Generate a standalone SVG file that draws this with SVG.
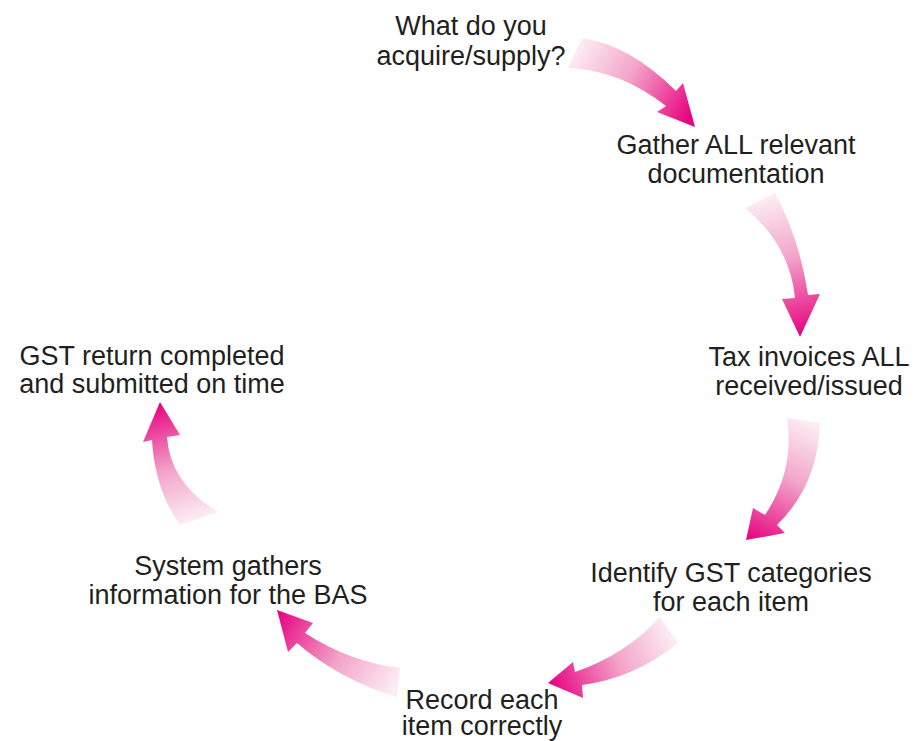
<svg xmlns="http://www.w3.org/2000/svg" width="916" height="741" viewBox="0 0 916 741">
<style>
.t{font-family:"Liberation Sans",Arial,sans-serif;font-size:27px;fill:#231f20;text-anchor:middle}
</style>
<defs>
<linearGradient id="g1" gradientUnits="userSpaceOnUse" x1="575" y1="53" x2="690" y2="120"><stop offset="0" stop-color="#fcecf3"/><stop offset="0.45" stop-color="#f3a3c9"/><stop offset="1" stop-color="#e6007e"/></linearGradient>
<linearGradient id="g2" gradientUnits="userSpaceOnUse" x1="760" y1="200" x2="800" y2="337"><stop offset="0" stop-color="#fcecf3"/><stop offset="0.45" stop-color="#f3a3c9"/><stop offset="1" stop-color="#e6007e"/></linearGradient>
<linearGradient id="g3" gradientUnits="userSpaceOnUse" x1="803" y1="420" x2="746" y2="540"><stop offset="0" stop-color="#fcecf3"/><stop offset="0.45" stop-color="#f3a3c9"/><stop offset="1" stop-color="#e6007e"/></linearGradient>
<linearGradient id="g4" gradientUnits="userSpaceOnUse" x1="669" y1="630" x2="548" y2="683"><stop offset="0" stop-color="#fcecf3"/><stop offset="0.45" stop-color="#f3a3c9"/><stop offset="1" stop-color="#e6007e"/></linearGradient>
<linearGradient id="g5" gradientUnits="userSpaceOnUse" x1="398" y1="682" x2="277" y2="610"><stop offset="0" stop-color="#fcecf3"/><stop offset="0.45" stop-color="#f3a3c9"/><stop offset="1" stop-color="#e6007e"/></linearGradient>
<linearGradient id="g6" gradientUnits="userSpaceOnUse" x1="199" y1="518" x2="160" y2="402"><stop offset="0" stop-color="#fcecf3"/><stop offset="0.45" stop-color="#f3a3c9"/><stop offset="1" stop-color="#e6007e"/></linearGradient>
</defs>
<g id="connectors">
<path fill="url(#g1)" d="M582,38 Q630,45 676,91 L683,83 L695,127 L657,112 L666,106 Q620,70 568,68 Z"/>
<path fill="url(#g2)" d="M745,208 L775,193 Q800,240 808,295 L820,294 L800,337 L782,299 L795,298 Q790,245 745,208 Z"/>
<path fill="url(#g3)" d="M787,418 L820,423 Q818,485 777,525 L785,533 L746,540 L753,508 L765,515 Q795,470 787,418 Z"/>
<path fill="url(#g4)" d="M660,617 L678,643 Q635,678 582,685 L583,698 L548,683 L573,662 L575,672 Q625,655 660,617 Z"/>
<path fill="url(#g5)" d="M400,668 L397,697 Q340,680 297,643 L288,652 L277,610 L313,623 L305,633 Q350,662 400,668 Z"/>
<path fill="url(#g6)" d="M180,525 Q155,490 152,440 L143,442 L160,402 L180,435 L167,437 Q170,483 218,512 Z"/>
</g>
<g id="n1"><text class="t" x="471" y="35">What do you</text><text class="t" x="471" y="65">acquire/supply?</text></g>
<g id="n2"><text class="t" x="736" y="154">Gather ALL relevant</text><text class="t" x="736" y="183">documentation</text></g>
<g id="n3"><text class="t" x="809" y="366">Tax invoices ALL</text><text class="t" x="809" y="395">received/issued</text></g>
<g id="n4"><text class="t" x="731" y="582">Identify GST categories</text><text class="t" x="731" y="611">for each item</text></g>
<g id="n5"><text class="t" x="482" y="709">Record each</text><text class="t" x="482" y="735">item correctly</text></g>
<g id="n6"><text class="t" x="228" y="575">System gathers</text><text class="t" x="228" y="604">information for the BAS</text></g>
<g id="n7"><text class="t" x="152" y="365">GST return completed</text><text class="t" x="152" y="393">and submitted on time</text></g>
</svg>
